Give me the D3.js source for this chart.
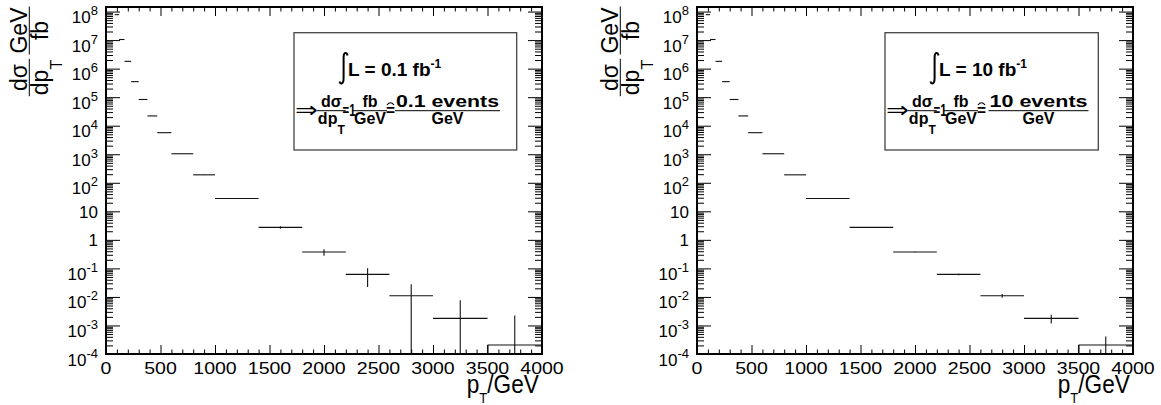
<!DOCTYPE html>
<html><head><meta charset="utf-8">
<script src="https://cdn.jsdelivr.net/npm/d3@7"></script>
<style>html,body{margin:0;padding:0;background:#fff;} svg{display:block;}</style>
</head><body>
<svg id="c" width="1161" height="405"></svg>
<script>
// ---- data ----
const binEdges = [80, 120, 170, 230, 300, 380, 470, 600, 800, 1000, 1400, 1800, 2200, 2600, 3000, 3500, 4000];
const crossSection = [7.8e7, 1.05e7, 1.8e6, 3.5e5, 8.3e4, 2.2e4, 5.7e3, 1040, 190, 28, 2.73, 0.375, 0.0616, 0.011, 0.00177, 2.07e-4];
const errLumi01 = [4416, 1449, 548, 224, 102, 49.4, 20.9, 7.2, 3.08, 0.837, 0.261, 0.0968, 0.0392, 0.0166, 0.00595, 0.00204];
const errLumi10 = [441.6, 144.9, 54.8, 22.4, 10.2, 4.94, 2.09, 0.72, 0.308, 0.0837, 0.0261, 0.00968, 0.00392, 0.00166, 0.000595, 0.000204];
const xTickValues = [0, 500, 1000, 1500, 2000, 2500, 3000, 3500, 4000];
const xTickLabels = ["0", "500", "1000", "1500", "2000", "2500", "3000", "3500", "4000"];
const yTickExponents = [-4, -3, -2, -1, 0, 1, 2, 3, 4, 5, 6, 7, 8];
const lumiLabels = ["0.1", "10"];
const eventLabels = ["0.1 events", "10 events"];

// ---- layout ----
const svg = d3.select("#c");
const FONT = "'Liberation Sans', Arial, Helvetica, sans-serif";
const TOP = 7, BOTTOM = 354;
const panels = [
  {left: 106, right: 542, err: errLumi01, lumi: lumiLabels[0], events: eventLabels[0], boxW: 222.7, evW: 103},
  {left: 697, right: 1133, err: errLumi10, lumi: lumiLabels[1], events: eventLabels[1], boxW: 213.3, evW: 98}
];

function fraction(parent, o) {
  const gg = parent.append("g").attr("transform", `translate(${o.cx},${o.cy}) rotate(${o.rot || 0})`);
  const nt = gg.append("text").attr("text-anchor", "middle").attr("y", o.numOff)
    .attr("font-size", o.numFs || o.fs).attr("font-weight", o.weight || "normal").attr("font-family", FONT).text(o.num);
  if (o.numLen) nt.attr("textLength", o.numLen).attr("lengthAdjust", "spacingAndGlyphs");
  const dt = gg.append("text").attr("text-anchor", "middle").attr("y", o.denOff)
    .attr("font-size", o.fs).attr("font-weight", o.weight || "normal").attr("font-family", FONT);
  dt.append("tspan").text(o.den);
  if (o.sub) dt.append("tspan").attr("font-size", o.subFs).attr("dy", o.subDy).text(o.sub);
  const nw = o.numLen || nt.node().getComputedTextLength();
  const w = Math.max(nw, dt.node().getComputedTextLength()) + 2;
  gg.append("line").attr("x1", -w / 2).attr("x2", w / 2).attr("y1", 0).attr("y2", 0)
    .attr("stroke", "#000").attr("stroke-width", 1);
}

function drawPanel(p) {
  const g = svg.append("g");
  const off = p.left - 106;
  const x = d3.scaleLinear().domain([0, 4000]).range([p.left, p.right]);
  const y = d3.scaleLog().domain([1e-4, Math.pow(10, 8.16)]).range([BOTTOM, TOP]);

  const yMajor = yTickExponents.map(e => Math.pow(10, e));
  const yMinor = [];
  yTickExponents.forEach(e => { for (let m = 2; m <= 9; m++) { const v = m * Math.pow(10, e); if (v <= y.domain()[1]) yMinor.push(v); } });
  const xMinor = d3.range(0, 4001, 100).filter(v => v % 500 !== 0);

  function axis(gen, vals, size, tr) {
    const a = g.append("g").attr("transform", tr)
      .call(gen.tickValues(vals).tickSizeInner(-size).tickSizeOuter(0).tickFormat(""));
    a.select(".domain").remove();
    a.selectAll("line").attr("stroke", "#000").attr("stroke-width", 1);
  }
  axis(d3.axisBottom(x), xTickValues, 9, `translate(0,${BOTTOM})`);
  axis(d3.axisBottom(x), xMinor, 4.5, `translate(0,${BOTTOM})`);
  axis(d3.axisTop(x), xTickValues, 9, `translate(0,${TOP})`);
  axis(d3.axisTop(x), xMinor, 4.5, `translate(0,${TOP})`);
  axis(d3.axisLeft(y), yMajor, 14, `translate(${p.left},0)`);
  axis(d3.axisLeft(y), yMinor, 7, `translate(${p.left},0)`);
  axis(d3.axisRight(y), yMajor, 14, `translate(${p.right},0)`);
  axis(d3.axisRight(y), yMinor, 7, `translate(${p.right},0)`);

  // data
  const bins = crossSection.map((v, i) => ({lo: binEdges[i], hi: binEdges[i + 1], v, e: p.err[i]}));
  const dg = g.append("g").attr("stroke", "#111").attr("stroke-width", 1.1);
  dg.selectAll(".h").data(bins).join("line").attr("class", "h")
    .attr("x1", d => x(d.lo)).attr("x2", d => x(d.hi))
    .attr("y1", d => y(d.v)).attr("y2", d => y(d.v));
  dg.selectAll(".e").data(bins).join("line").attr("class", "e")
    .attr("x1", d => x((d.lo + d.hi) / 2)).attr("x2", d => x((d.lo + d.hi) / 2))
    .attr("y1", d => Math.max(TOP, y(d.v + d.e)))
    .attr("y2", d => (d.v - d.e > 1e-4) ? y(d.v - d.e) : BOTTOM);
  const last = bins[bins.length - 1];
  dg.append("line").attr("x1", x(last.lo)).attr("x2", x(last.lo)).attr("y1", y(last.v)).attr("y2", BOTTOM);

  // frame
  g.append("rect").attr("x", p.left).attr("y", TOP).attr("width", p.right - p.left).attr("height", BOTTOM - TOP)
    .attr("fill", "none").attr("stroke", "#000").attr("stroke-width", 2);

  // y tick labels
  yTickExponents.forEach(e => {
    const ty = y(Math.pow(10, e));
    const t = g.append("text").attr("x", p.left - 8).attr("text-anchor", "end")
      .attr("font-family", FONT).attr("font-size", 17).attr("fill", "#000");
    if (e === 0) t.attr("y", ty + 6.5).text("1");
    else if (e === 1) t.attr("y", ty + 6.5).text("10");
    else {
      t.attr("y", ty + 11.5);
      t.append("tspan").text("10");
      t.append("tspan").attr("dy", -8).attr("font-size", 13).text(String(e));
    }
  });

  // x tick labels
  xTickValues.forEach((v, i) => {
    g.append("text").attr("transform", `translate(${x(v)},374) scale(1.15,1)`)
      .attr("text-anchor", "middle").attr("font-family", FONT).attr("font-size", 17).text(xTickLabels[i]);
  });

  // x title
  const xt = g.append("text").attr("transform", `translate(${p.left + 360.7},392.5) scale(0.87,1)`)
    .attr("font-family", FONT).attr("font-size", 26);
  xt.append("tspan").text("p");
  xt.append("tspan").attr("font-size", 15).attr("dy", 10).text("T");
  xt.append("tspan").attr("dy", -10).text("/GeV");

  // y title
  fraction(g, {cx: 29.3 + off, cy: 77.5, rot: -90, num: "dσ", den: "dp", sub: "T", fs: 23, subFs: 16,
    numOff: -2.8, denOff: 18.7, subDy: 13.7});
  fraction(g, {cx: 29.3 + off, cy: 30.5, rot: -90, num: "GeV", den: "fb", fs: 23,
    numOff: -2.8, denOff: 18.7});

  // legend box
  const L = p.left + 188;
  const lg = g.append("g");
  lg.append("rect").attr("x", L).attr("y", 32.7).attr("width", p.boxW).attr("height", 117.3)
    .attr("fill", "#fff").attr("stroke", "#444").attr("stroke-width", 1.3);
  lg.append("path")
    .attr("d", `M${L + 53.5},55.5 Q${L + 52.8},52.6 ${L + 51.2},53 Q${L + 49.6},53.5 ${L + 49.6},58 L${L + 49.6},78 Q${L + 49.6},83 ${L + 47.6},83.5 Q${L + 46},83.6 ${L + 45.5},81.5`)
    .attr("fill", "none").attr("stroke", "#000").attr("stroke-width", 2);
  const l1 = lg.append("text").attr("x", L + 54).attr("y", 76).attr("font-family", FONT)
    .attr("font-weight", "bold").attr("font-size", 19);
  l1.append("tspan").text(`L = ${p.lumi} fb`);
  l1.append("tspan").attr("dy", -8).attr("font-size", 12).text("-1");

  lg.append("text").attr("x", L + 1).attr("y", 117).attr("font-family", "'DejaVu Sans'")
    .attr("font-size", 21).attr("textLength", 23).attr("lengthAdjust", "spacingAndGlyphs").text("⇒");
  fraction(lg, {cx: L + 37.3, cy: 110.7, num: "dσ", den: "dp", sub: "T", fs: 16, subFs: 12,
    numOff: -3.4, denOff: 13, subDy: 10, weight: "bold"});
  lg.append("text").attr("x", L + 48.5).attr("y", 116).attr("font-family", FONT).attr("font-weight", "bold")
    .attr("font-size", 16).attr("textLength", 13).attr("lengthAdjust", "spacingAndGlyphs").text("=1");
  fraction(lg, {cx: L + 76, cy: 110.7, num: "fb", den: "GeV", fs: 16,
    numOff: -3.4, denOff: 13, weight: "bold"});
  lg.append("text").attr("x", L + 92).attr("y", 116).attr("font-family", FONT).attr("font-weight", "bold")
    .attr("font-size", 16).attr("textLength", 9).attr("lengthAdjust", "spacingAndGlyphs").text("=");
  lg.append("path").attr("d", `M${L + 93},105 Q${L + 96.5},100.5 ${L + 100},105`)
    .attr("fill", "none").attr("stroke", "#000").attr("stroke-width", 1.2);
  fraction(lg, {cx: L + 153.5, cy: 110.7, num: p.events, den: "GeV", fs: 16, numFs: 17, numLen: p.evW,
    numOff: -3.4, denOff: 13, weight: "bold"});
}

panels.forEach(drawPanel);
</script>
</body></html>
